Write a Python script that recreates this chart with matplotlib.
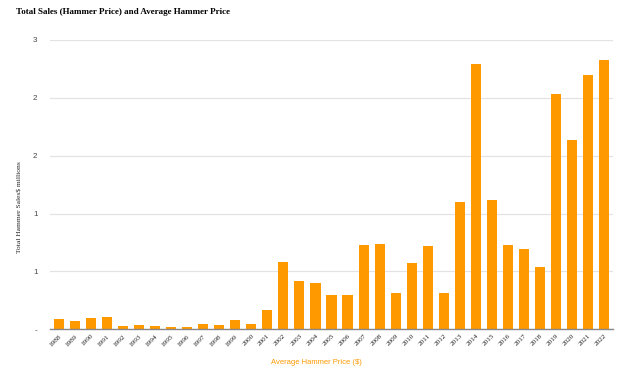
import matplotlib
matplotlib.use("Agg")
import matplotlib.pyplot as plt

years = [str(y) for y in range(1988, 2023)]
sales = [0.089, 0.072, 0.10, 0.11, 0.03, 0.04, 0.03, 0.02, 0.02, 0.045,
         0.04, 0.08, 0.05, 0.17, 0.58, 0.42, 0.40, 0.30, 0.30, 0.73,
         0.74, 0.31, 0.57, 0.72, 0.31, 1.10, 2.29, 1.12, 0.73, 0.69,
         0.54, 2.03, 1.64, 2.20, 2.33]
yticks = [0, 0.5, 1.0, 1.5, 2.0, 2.5]
ytick_labels = ["-", "1", "1", "2", "2", "3"]

W, H = 624, 379
fig = plt.figure(figsize=(W / 100, H / 100), dpi=100)
ax = fig.add_axes([50 / W, (H - 329.3) / H, 563 / W, (329.3 - 40) / H])

x = list(range(len(years)))
ax.bar(x, sales, width=0.63, color="#ff9900", zorder=3)

ax.set_xlim(-0.55, len(years) - 0.45)
ax.set_ylim(0, 2.5)
ax.set_yticks(yticks)
ax.set_yticklabels(ytick_labels, fontsize=5.8, color="#444444", family="Liberation Sans")
ax.set_xticks(x)
ax.set_xticklabels(years, rotation=45, ha="right", rotation_mode="anchor",
                   fontsize=5.2, family="Liberation Serif", color="#222222")
ax.tick_params(axis="both", length=0)
ax.tick_params(axis="y", pad=9)
ax.tick_params(axis="x", pad=3)
ax.grid(axis="y", color="#e3e3e3", linewidth=0.9, zorder=0)
for s in ["top", "right", "left"]:
    ax.spines[s].set_visible(False)
ax.spines["bottom"].set_color("#888888")
ax.spines["bottom"].set_linewidth(1.0)
ax.spines["bottom"].set_zorder(4)

fig.text(16 / W, 1 - 12 / H, "Total Sales (Hammer Price) and Average Hammer Price",
         fontsize=6.5, fontweight="bold", family="Liberation Serif", ha="left", va="center")
fig.text(20 / W, 1 - 207 / H, "Total Hammer Sales$ millions", rotation=90,
         fontsize=5.4, family="Liberation Serif", ha="center", va="center", color="#222222")
fig.text(316.5 / W, 1 - 362.5 / H, "Average Hammer Price ($)", fontsize=5.5,
         family="Liberation Sans", color="#ff9900", ha="center", va="center")

fig.savefig("out.png", dpi=100)
